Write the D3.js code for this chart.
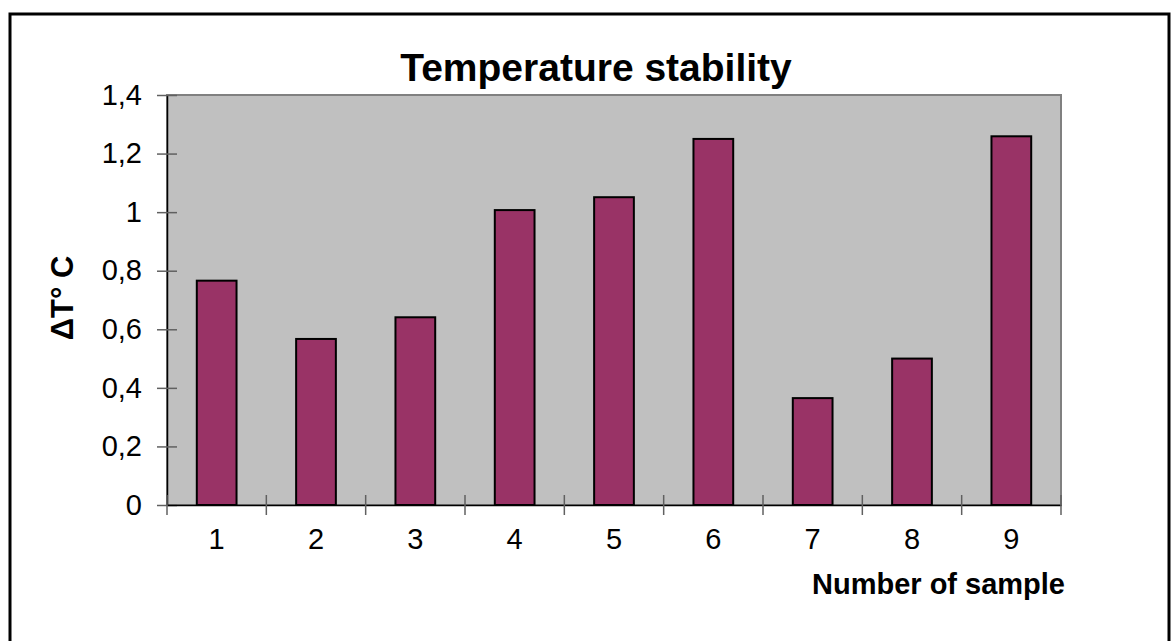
<!DOCTYPE html>
<html><head><meta charset="utf-8">
<script src="https://cdn.jsdelivr.net/npm/d3@7"></script>
<style>body{margin:0;background:#fff;} svg{display:block;}</style>
</head><body>
<script>
const categories = ["1","2","3","4","5","6","7","8","9"];
const values = [0.766, 0.567, 0.641, 1.007, 1.051, 1.25, 0.365, 0.50, 1.259];
const yTicks = [0, 0.2, 0.4, 0.6, 0.8, 1.0, 1.2, 1.4];
const titleText = "Temperature stability";
const xTitle = "Number of sample";
const yTitle = "ΔT° C";

const W = 1171, H = 641;
const m = {left:167, right:1061, top:95, bottom:505};
const svg = d3.select("body").append("svg").attr("width",W).attr("height",H);
svg.append("rect").attr("width",W).attr("height",H).attr("fill","#fff");

// outer chart border
svg.append("rect").attr("x",10).attr("y",14).attr("width",1159).attr("height",700)
  .attr("fill","none").attr("stroke","#000").attr("stroke-width",3);

const x = d3.scaleBand().domain(categories).range([m.left,m.right]).paddingInner(0).paddingOuter(0);
const y = d3.scaleLinear().domain([0,1.4]).range([m.bottom,m.top]);

// plot area
svg.append("rect").attr("x",m.left).attr("y",m.top).attr("width",m.right-m.left).attr("height",m.bottom-m.top)
  .attr("fill","#c0c0c0").attr("stroke","#808080").attr("stroke-width",2);

// bars
const bw = x.bandwidth()/2.5;
svg.append("g").selectAll("rect").data(values).join("rect")
  .attr("x",(d,i)=>x(categories[i])+x.bandwidth()/2-bw/2)
  .attr("y",d=>y(d))
  .attr("width",bw)
  .attr("height",d=>y(0)-y(d))
  .attr("fill","#993366").attr("stroke","#000").attr("stroke-width",2);

const fmt = d=>d3.format("~g")(d).replace(".",",");
const FONT = "Liberation Sans, Arial, sans-serif";

// y axis
const ya = d3.axisLeft(y).tickValues(yTicks).tickFormat(fmt).tickSizeInner(10).tickSizeOuter(0).tickPadding(14);
const yg = svg.append("g").attr("transform",`translate(${m.left},0)`).call(ya);
yg.select(".domain").attr("stroke","#000").attr("stroke-width",1.5);
yg.selectAll(".tick line").attr("x1",-10).attr("x2",10).attr("stroke","#606060").attr("stroke-width",1.5);
yg.selectAll(".tick text").attr("font-family",FONT).attr("font-size",29).attr("fill","#000").attr("x",-25);

// x axis
const xa = d3.axisBottom(x).tickSize(0).tickPadding(0);
const xg = svg.append("g").attr("transform",`translate(0,${m.bottom})`).call(xa);
xg.select(".domain").attr("stroke","#000").attr("stroke-width",1.5);
xg.selectAll(".tick text").attr("font-family",FONT).attr("font-size",29).attr("fill","#000")
  .attr("dy",0).attr("y",44);
const bounds = categories.map(c=>x(c)).concat([m.right]);
svg.append("g").selectAll("line").data(bounds).join("line")
  .attr("x1",d=>d).attr("x2",d=>d).attr("y1",m.bottom-10).attr("y2",m.bottom+10)
  .attr("stroke","#606060").attr("stroke-width",1.5);

// titles
svg.append("text").attr("x",596).attr("y",81).attr("text-anchor","middle")
  .attr("font-family",FONT).attr("font-weight","bold").attr("font-size",39).text(titleText);
svg.append("text").attr("x",1065).attr("y",594).attr("text-anchor","end")
  .attr("font-family",FONT).attr("font-weight","bold").attr("font-size",29).text(xTitle);
svg.append("text").attr("transform","translate(73,298) rotate(-90)").attr("text-anchor","middle")
  .attr("font-family",FONT).attr("font-weight","bold").attr("font-size",31).text(yTitle);
</script>
</body></html>
